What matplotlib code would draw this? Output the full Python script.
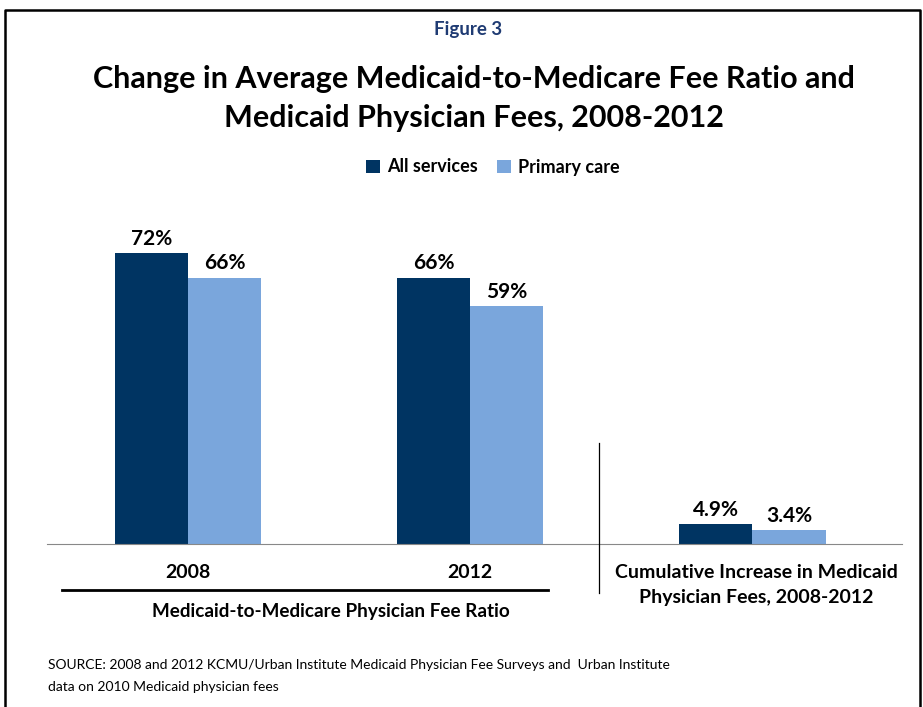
import matplotlib
matplotlib.use("Agg")
import matplotlib.pyplot as plt
import numpy as np
from matplotlib.lines import Line2D

plt.rcParams["font.family"] = ["Lato", "DejaVu Sans"]

groups = ["2008", "2012", "Cumulative Increase in Medicaid\nPhysician Fees, 2008-2012"]
series_names = ["All services", "Primary care"]
all_services = [72, 66, 4.9]
primary_care = [66, 59, 3.4]
value_labels_all = ["72%", "66%", "4.9%"]
value_labels_pc = ["66%", "59%", "3.4%"]
title_lines = ["Change in Average Medicaid-to-Medicare Fee Ratio and",
               "Medicaid Physician Fees, 2008-2012"]

DARK = "#003462"
LIGHT = "#7aa6dc"

W, H = 923, 707
fig = plt.figure(figsize=(W / 100, H / 100), dpi=100)


def fx(px):
    return px / W


def fy(py):
    return 1 - py / H


ax = fig.add_axes([fx(47), fy(544), fx(902) - fx(47), fy(221) - fy(544)])
x = np.arange(len(groups))
bw = 0.259
ax.bar(x - bw / 2, all_services, bw, color=DARK, label=series_names[0])
ax.bar(x + bw / 2, primary_care, bw, color=LIGHT, label=series_names[1])
for xi, v, t in zip(x, all_services, value_labels_all):
    ax.text(xi - bw / 2, v + 1.0, t, ha="center", va="bottom", fontsize=15, fontweight="bold")
for xi, v, t in zip(x, primary_care, value_labels_pc):
    ax.text(xi + bw / 2, v + 1.0, t, ha="center", va="bottom", fontsize=15, fontweight="bold")

ax.set_xlim(-0.5, 2.53)
ax.set_ylim(0, 80)
for s in ["top", "right", "left"]:
    ax.spines[s].set_visible(False)
ax.spines["bottom"].set_color("#888888")
ax.set_yticks([])
ax.set_xticks([])

# category labels below axis
ax.text(0, -7, groups[0], ha="center", va="center", fontsize=14, fontweight="bold")
ax.text(1, -7, groups[1], ha="center", va="center", fontsize=14, fontweight="bold")
for line, py in zip(groups[2].split("\n"), [573, 597]):
    fig.text(fx(756), fy(py), line, ha="center", va="center", fontsize=14, fontweight="bold")
fig.text(fx(331), fy(611), "Medicaid-to-Medicare Physician Fee Ratio", ha="center",
         va="center", fontsize=13.6, fontweight="bold")

# separator and underline
fig.add_artist(Line2D([fx(599), fx(599)], [fy(443), fy(593)], color="black", lw=0.9))
fig.add_artist(Line2D([fx(62), fx(548)], [fy(590), fy(590)], color="black", lw=2))

# border
fig.add_artist(Line2D([fx(5), fx(5), fx(920), fx(920)], [0, fy(10), fy(10), 0],
                      color="black", lw=1.8))

fig.text(fx(468), fy(29), "Figure 3", ha="center", va="center", fontsize=13.5,
         fontweight="bold", color="#1f3b73")
for line, py in zip(title_lines, [79, 118]):
    fig.text(fx(474), fy(py), line, ha="center", va="center", fontsize=22, fontweight="bold")

leg = fig.legend(loc="center", bbox_to_anchor=(fx(493), fy(167)), ncol=2, frameon=False,
                 fontsize=13, handlelength=0.75, handleheight=0.75, handletextpad=0.4,
                 columnspacing=1.1)
for t in leg.get_texts():
    t.set_fontweight("bold")

fig.text(fx(48), fy(665), "SOURCE: 2008 and 2012 KCMU/Urban Institute Medicaid Physician Fee Surveys and  Urban Institute",
         ha="left", va="center", fontsize=10)
fig.text(fx(48), fy(687), "data on 2010 Medicaid physician fees", ha="left", va="center", fontsize=10)

fig.savefig("out.png", dpi=100)
